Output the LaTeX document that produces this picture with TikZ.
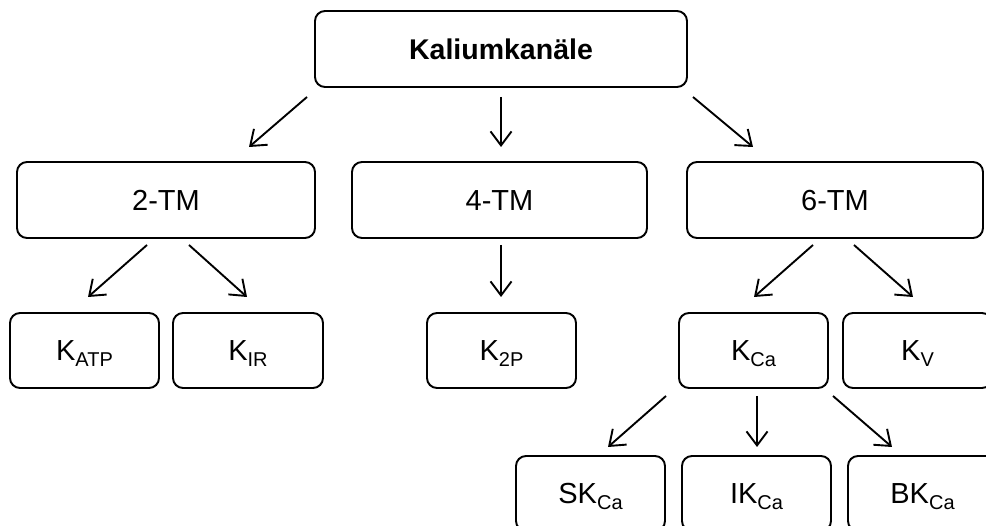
\documentclass[tikz,border=0pt]{standalone}
\usepackage{fontspec}
\setmainfont{Liberation Sans}
\usetikzlibrary{arrows.meta}
\newcommand{\sbs}[1]{\raisebox{-6pt}{\fontsize{20}{20}\selectfont #1}}
\begin{document}
\begin{tikzpicture}[x=1pt,y=-1pt,
  box/.style={draw, line width=1.9pt, rounded corners=10pt, inner sep=0pt,
    font=\fontsize{29}{29}\selectfont, text height=20.7pt, text depth=0pt,
    minimum height=75pt, minimum width=149pt},
  arr/.style={-{Straight Barb[length=14pt,width=21pt]}, line width=1.9pt}]
\clip (0,0) rectangle (986,526);
\fill[white] (0,0) rectangle (986,526);
% level 0
\node[box, minimum width=372pt, minimum height=76pt, font=\fontsize{28.5}{29}\selectfont\bfseries] (top) at (501,49) {Kaliumkanäle};
% level 1
\node[box, minimum width=298pt, minimum height=76pt] (tm2) at (166,200) {2-TM};
\node[box, minimum width=295pt, minimum height=76pt] (tm4) at (499.5,200) {4-TM};
\node[box, minimum width=296pt, minimum height=76pt] (tm6) at (835,200) {6-TM};
% level 2
\node[box] (katp) at (84.5,350.5) {K\sbs{ATP}};
\node[box, minimum width=150pt] (kir) at (248,350.5) {K\sbs{IR}};
\node[box] (k2p) at (501.5,350.5) {K\sbs{2P}};
\node[box] (kca) at (753.5,350.5) {K\sbs{Ca}};
\node[box] (kv) at (917.5,350.5) {K\sbs{V}};
% level 3
\node[box] (skca) at (590.5,493.5) {SK\sbs{Ca}};
\node[box] (ikca) at (756.5,493.5) {IK\sbs{Ca}};
\node[box] (bkca) at (922.5,493.5) {BK\sbs{Ca}};
% arrow end points
\coordinate (a1s) at (307,97);  \coordinate (a1e) at (249,147);
\coordinate (a2s) at (501,97);  \coordinate (a2e) at (501,147);
\coordinate (a3s) at (693,97);  \coordinate (a3e) at (753,147);
\coordinate (b1s) at (147,245); \coordinate (b1e) at (88,297);
\coordinate (b2s) at (189,245); \coordinate (b2e) at (247,297);
\coordinate (b3s) at (501,245); \coordinate (b3e) at (501,297);
\coordinate (b4s) at (813,245); \coordinate (b4e) at (754,297);
\coordinate (b5s) at (854,245); \coordinate (b5e) at (913,297);
\coordinate (c1s) at (666,396); \coordinate (c1e) at (608,447);
\coordinate (c2s) at (757,396); \coordinate (c2e) at (757,447);
\coordinate (c3s) at (833,396); \coordinate (c3e) at (892,447);
\foreach \s/\e in {a1s/a1e,a2s/a2e,a3s/a3e,b1s/b1e,b2s/b2e,b3s/b3e,b4s/b4e,b5s/b5e,c1s/c1e,c2s/c2e,c3s/c3e}
  \draw[arr] (\s) -- (\e);
\end{tikzpicture}
\end{document}
